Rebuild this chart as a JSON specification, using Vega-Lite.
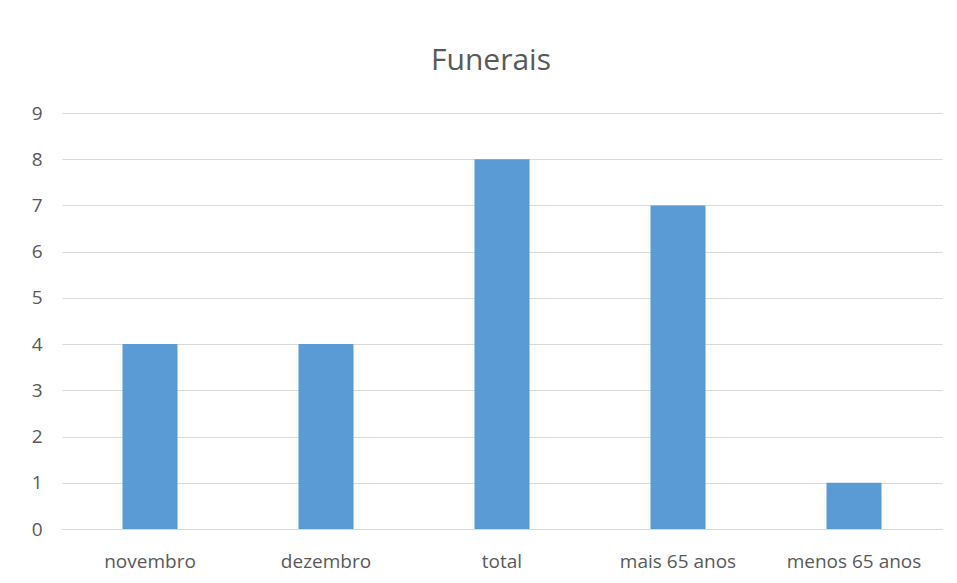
{
  "$schema": "https://vega.github.io/schema/vega-lite/v6.json",
  "autosize": "none",
  "width": 880,
  "height": 416,
  "padding": {"left": 62, "top": 113, "right": 15, "bottom": 54},
  "background": "white",
  "data": {"values": [
    {"categoria": "novembro", "valor": 4},
    {"categoria": "dezembro", "valor": 4},
    {"categoria": "total", "valor": 8},
    {"categoria": "mais 65 anos", "valor": 7},
    {"categoria": "menos 65 anos", "valor": 1}
  ]},
  "title": {
    "text": "Funerais",
    "fontSize": 30,
    "font": "Open Sans",
    "fontWeight": "normal",
    "color": "#595959",
    "anchor": "middle",
    "dx": -11,
    "offset": 28
  },
  "mark": {"type": "bar", "color": "#5B9BD5"},
  "encoding": {
    "x": {
      "field": "categoria",
      "type": "nominal",
      "sort": null,
      "scale": {"paddingInner": 0.6875, "paddingOuter": 0.34375},
      "axis": {
        "title": null,
        "labelAngle": 0,
        "labelFont": "Open Sans",
        "labelFontSize": 19,
        "labelColor": "#595959",
        "labelPadding": 23,
        "ticks": false,
        "domain": true,
        "domainColor": "#d9d9d9",
        "grid": false
      }
    },
    "y": {
      "field": "valor",
      "type": "quantitative",
      "scale": {"domain": [0, 9], "nice": false},
      "axis": {
        "title": null,
        "values": [0, 1, 2, 3, 4, 5, 6, 7, 8, 9],
        "labelFont": "Open Sans",
        "labelFontSize": 19,
        "labelColor": "#595959",
        "labelPadding": 20,
        "ticks": false,
        "domain": false,
        "grid": true,
        "gridColor": "#d9d9d9",
        "gridWidth": 1
      }
    }
  },
  "config": {"view": {"stroke": null}}
}
